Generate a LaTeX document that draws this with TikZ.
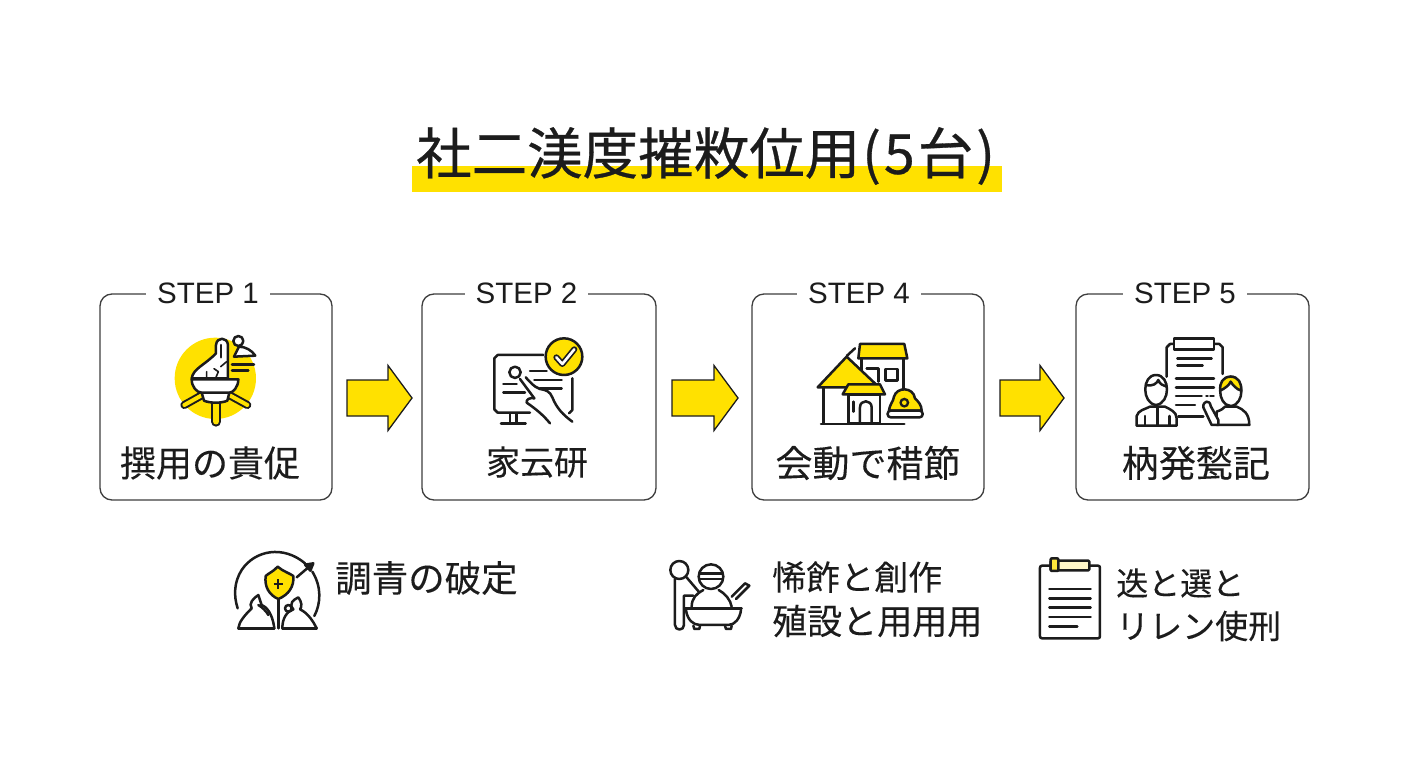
\documentclass[tikz,border=0pt]{standalone}
\usepackage{fontspec}
\newfontfamily\jp[FakeBold=0.12]{Noto Sans CJK JP}
\newfontfamily\jpm[FakeBold=0.5]{Noto Sans CJK JP}
\newfontfamily\lat{Liberation Sans}
\definecolor{ink}{HTML}{1C1C1C}
\definecolor{yel}{HTML}{FFE100}
\definecolor{paleyel}{HTML}{FFF6C8}
\newcommand{\fs}[1]{\fontsize{#1}{#1}\selectfont}
\tikzset{
  x=1pt,y=-1pt,
  zf/.style 2 args={x=0.33333pt,y=-0.33333pt,shift={(#1*3,#2*3)}},
  ic/.style={draw=ink,line width=2.5pt,line cap=round,line join=round},
  stepbox/.style={draw=ink!85,line width=1.3pt,rounded corners=12pt,inner sep=0pt,fill=white},
  steptag/.style={fill=white,inner xsep=11pt,inner ysep=0pt,text=ink,font=\lat\fs{29.5}},
  steplabel/.style={text=ink,font=\jp\fs{#1},inner sep=0pt},
  sidelabel/.style={text=ink,font=\jp\fs{#1},inner sep=0pt,anchor=west},
  blockarrow/.style={draw=ink,line width=1.3pt,fill=yel,line join=miter}
}
\newcommand{\yarrow}[3]{% name, left x, neck length
  \coordinate (#1) at (#2,398);
  \draw[blockarrow] (#1) ++(0,-18) -- ++(#3,0) -- ++(0,-14.5) -- ++(24,32.5) -- ++(-24,32.5) -- ++(0,-14.5) -- ++(-#3,0) -- cycle;
}
\begin{document}
\begin{tikzpicture}
\useasboundingbox (0,0) rectangle (1408,768);
\fill[white] (0,0) rectangle (1408,768);

% title
\fill[yel] (412,166) rectangle (1002,192);
\node[inner sep=0pt,anchor=west,text=ink,font=\jpm\fs{55.5}] (title) at (416,156) {社二渼度摧敉位用\kern2pt(\kern3pt 5\kern3pt 台\kern3pt)};

% boxes
\node[stepbox,minimum width=232pt,minimum height=206pt] (b1) at (216,397) {};
\node[stepbox,minimum width=234pt,minimum height=206pt] (b2) at (539,397) {};
\node[stepbox,minimum width=232pt,minimum height=206pt] (b3) at (868,397) {};
\node[stepbox,minimum width=233pt,minimum height=206pt] (b4) at (1192.5,397) {};
\node[steptag] (t1) at (208,293) {STEP 1};
\node[steptag] (t2) at (526.5,293) {STEP 2};
\node[steptag] (t3) at (859,293) {STEP 4};
\node[steptag] (t4) at (1185,293) {STEP 5};
\node[steplabel=36] (l1) at (210,463) {撰用の貴促};
\node[steplabel=34] (l2) at (537,462) {家云研};
\node[steplabel=37] (l3) at (868,463) {会動で稓節};
\node[steplabel=37] (l4) at (1196,463) {枘発甃記};

% arrows
\yarrow{a1}{347}{41}
\yarrow{a2}{672}{42}
\yarrow{a3}{1000}{40}

% icon 1
\begin{scope}[zf={90}{270}]
\fill[yel] (376,325) circle[radius=122];
\draw[line width=8pt,draw=ink,line cap=round] (342,372) -- (283,405);
\draw[line width=8pt,draw=ink,line cap=round] (412,372) -- (472,405);
\draw[line width=4pt,draw=yel,line cap=round] (342,372) -- (283,405);
\draw[line width=4pt,draw=yel,line cap=round] (412,372) -- (472,405);
\draw[line width=10pt,draw=ink,line cap=round] (378,400) -- (378,455);
\draw[line width=5.6pt,draw=yel,line cap=round] (378,400) -- (378,455);
\draw[ic,fill=white] (335,368) -- (418,368) -- (412,392) .. controls (395,400) and (360,400) .. (342,392) -- cycle;
\draw[ic,fill=white] (305,328) -- (445,328) .. controls (445,350) and (430,368) .. (418,368) -- (335,368) .. controls (320,368) and (305,350) .. (305,328) -- cycle;
\draw[ic,fill=white] (305,325) .. controls (310,295) and (345,285) .. (378,250) -- (378,225) .. controls (380,200) and (412,200) .. (414,225) -- (414,325) -- cycle;
\draw[ic] (393,225) -- (393,262);
\draw[ic,line width=1.6pt] (350,322) -- (350,305) (378,322) -- (385,305) -- (372,296) (392,290) -- (410,275);
\draw[ic,fill=white] (445,213) circle[radius=15];
\draw[ic,fill=white] (447,230) -- (432,260) -- (496,257) .. controls (485,240) and (465,230) .. (447,230) -- cycle;
\draw[ic] (426,283) -- (492,283) (426,302) -- (475,302);
\end{scope}

% icon 2
\begin{scope}[zf={415}{270}]
\draw[ic] (385,255) -- (248,255) -- (238,265) -- (238,418) -- (248,428) -- (345,428);
\draw[ic] (472,325) -- (472,420) -- (462,430);
\draw[ic] (285,430) -- (285,458) (305,430) -- (305,458) (258,460) -- (332,460);
\draw[ic] (300,307) circle[radius=17];
\draw[ic] (345,303) -- (395,303) (265,342) -- (305,342) (265,367) -- (330,367) (358,330) -- (440,330) (375,355) -- (440,355);
\draw[ic] (315,327) -- (358,385) (332,322) .. controls (345,335) and (355,350) .. (375,357) .. controls (395,360) and (405,365) .. (412,382) .. controls (425,415) and (445,435) .. (472,455);
\draw[ic] (358,385) .. controls (345,382) and (333,388) .. (335,398) .. controls (360,415) and (385,435) .. (405,460);
\fill[white] (447,260) circle[radius=59];
\draw[ic,fill=yel] (447,260) circle[radius=55];
\draw[line width=6pt,draw=ink,line cap=round,line join=round] (424,262) -- (442,282) -- (478,238);
\draw[line width=2.6pt,draw=white,line cap=round,line join=round] (424,262) -- (442,282) -- (478,238);
\end{scope}

% icon 3
\begin{scope}[zf={745}{270}]
\draw[ic] (350,265) -- (350,300) (476,265) -- (476,370);
\draw[ic,fill=yel] (345,222) -- (478,222) -- (487,265) -- (340,265) -- cycle;
\draw[ic] (365,295) -- (400,295) -- (400,335);
\draw[ic] (422,297) rectangle (458,332);
\draw[ic] (305,258) -- (330,235);
\draw[ic] (235,352) -- (235,460);
\draw[ic,fill=yel] (305,260) -- (218,352) -- (305,352) -- (395,345) -- cycle;
\draw[ic,fill=white] (310,373) rectangle (405,460);
\draw[ic,fill=yel] (310,343) -- (405,343) -- (420,373) -- (293,373) -- cycle;
\draw[ic] (345,460) -- (345,412) .. controls (345,388) and (380,388) .. (380,412) -- (380,460);
\draw[ic] (325,395) -- (325,425);
\draw[ic] (228,462) -- (478,462);
\draw[ic,fill=yel] (432,422) .. controls (435,400) and (445,395) .. (447,380) .. controls (455,350) and (505,350) .. (510,385) .. controls (520,395) and (530,405) .. (530,422) -- cycle;
\draw[ic,fill=white,rounded corners=3pt] (428,422) rectangle (533,442);
\fill[ink] (478,398) circle[radius=15];
\fill[yel] (478,398) circle[radius=7];
\end{scope}

% icon 4
\begin{scope}[zf={1070}{270}]
\draw[ic] (290,320) -- (290,232) -- (300,222) -- (448,222) -- (458,232) -- (458,312);
\draw[ic,fill=white] (312,205) rectangle (432,238);
\draw[ic] (322,265) -- (425,265) (322,287) -- (398,287) (318,325) -- (432,325) (318,352) -- (432,352) (318,378) -- (395,378) (318,405) -- (375,405) (325,440) -- (400,440);
\draw[ic,line width=1.4pt] (408,378) -- (414,378) (420,378) -- (432,378);
% left person
\draw[ic,fill=white] (200,467) -- (200,438) .. controls (205,420) and (225,418) .. (240,410) -- (285,410) .. controls (300,418) and (320,425) .. (320,445) -- (320,467) -- cycle;
\draw[ic,fill=white] (258,315) .. controls (215,315) and (215,400) .. (258,405) .. controls (302,400) and (302,315) .. (258,315) -- cycle;
\draw[ic] (228,345) .. controls (250,350) and (260,340) .. (265,330) .. controls (270,345) and (280,345) .. (290,350);
\draw[ic] (262,415) -- (262,467) (225,438) -- (225,467) (298,438) -- (298,467);
% right person
\draw[ic,fill=white] (440,465) -- (440,425) .. controls (455,420) and (460,415) .. (465,410) -- (500,410) .. controls (520,418) and (538,430) .. (538,465) -- cycle;
\draw[ic,fill=white] (425,465) -- (400,412) .. controls (398,392) and (420,388) .. (422,408) -- (445,450) -- (445,465) -- cycle;
\draw[ic,fill=white] (482,320) .. controls (440,320) and (440,405) .. (482,408) .. controls (525,405) and (525,320) .. (482,320) -- cycle;
\draw[ic,fill=yel] (482,320) .. controls (458,320) and (448,340) .. (451,362) .. controls (465,355) and (478,345) .. (482,335) .. controls (488,345) and (500,358) .. (513,362) .. controls (516,340) and (505,320) .. (482,320) -- cycle;
\end{scope}

% bottom icon 1
\begin{scope}[zf={225}{540}]
\draw[ic] (240,70) .. controls (175,15) and (90,30) .. (50,90) .. controls (28,125) and (25,165) .. (38,205);
\draw[ic] (262,95) .. controls (290,140) and (288,190) .. (268,228);
\draw[ic] (215,112) -- (262,72);
\draw[ic,fill=ink] (265,70) -- (240,74) -- (256,92) -- cycle;
\draw[ic] (160,172) -- (160,265);
\draw[ic,fill=yel] (158,80) .. controls (175,95) and (195,100) .. (205,108) .. controls (208,140) and (190,165) .. (160,177) .. controls (132,165) and (118,140) .. (122,108) .. controls (130,100) and (145,95) .. (158,80) -- cycle;
\draw[ink,line width=2.2pt] (160,118) -- (160,146) (146,132) -- (174,132);
\draw[ic] (40,265) .. controls (42,245) and (60,225) .. (80,205) .. controls (70,190) and (85,175) .. (100,165) .. controls (105,180) and (108,190) .. (110,195) .. controls (135,205) and (145,240) .. (148,265);
\draw[ic] (100,195) .. controls (110,200) and (125,215) .. (130,225);
\draw[ic] (172,265) .. controls (172,235) and (185,215) .. (205,208) .. controls (190,190) and (205,180) .. (220,172) .. controls (230,185) and (232,200) .. (225,208) .. controls (250,220) and (265,245) .. (275,265);
\draw[ic] (190,205) circle[radius=10];
\draw[ic] (40,265) -- (148,265) (172,265) -- (275,265);
\end{scope}

% bottom icon 2
\begin{scope}[zf={660}{545}]
\draw[ic] (58,75) circle[radius=27];
\draw[ic] (45,102) -- (45,240) .. controls (45,258) and (72,258) .. (72,240) -- (72,152) -- (100,152);
\draw[ic] (78,95) -- (118,142);
\draw[ic] (153,95) circle[radius=37];
\draw[ic] (118,86) -- (188,86) (118,102) -- (188,102);
\draw[ic] (95,185) .. controls (95,160) and (110,145) .. (130,135) (176,135) .. controls (195,145) and (212,165) .. (215,185);
\draw[ic] (215,155) -- (255,115) -- (268,122) -- (228,162);
\draw[ic] (75,190) -- (245,190);
\draw[ic] (78,195) .. controls (82,225) and (100,240) .. (120,240) -- (205,240) .. controls (225,240) and (240,220) .. (243,195);
\draw[ic] (100,242) -- (103,252) -- (118,252) -- (120,242) (195,242) -- (198,252) -- (213,252) -- (215,242);
\end{scope}

% bottom icon 3
\begin{scope}[zf={1030}{545}]
\draw[ic,rounded corners=2pt] (30,62) rectangle (210,280);
\draw[ic,fill=paleyel,rounded corners=1pt] (62,47) rectangle (178,76);
\draw[ic,fill=yel!70!paleyel,rounded corners=1pt] (62,40) rectangle (85,78);
\draw[ic] (58,132) -- (182,132) (58,160) -- (182,160) (58,188) -- (182,188) (58,216) -- (182,216) (58,245) -- (142,245);
\end{scope}

% bottom texts
\node[sidelabel=36.5] (s1) at (335,578) {調青の破定};
\node[sidelabel=34] (s2) at (772,577) {悕飵と創作};
\node[sidelabel=35] (s3) at (772,621) {殖設と用用用};
\node[sidelabel=32] (s4) at (1116,583) {迭と選と};
\node[sidelabel=33] (s5) at (1116,626) {リレン使刑};
\end{tikzpicture}
\end{document}
